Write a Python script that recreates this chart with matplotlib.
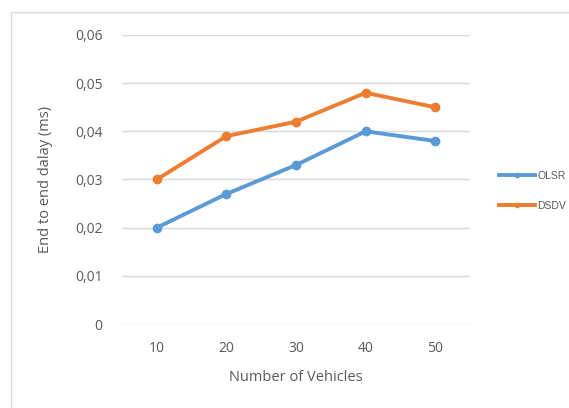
import matplotlib
matplotlib.use("Agg")
import matplotlib.pyplot as plt
from matplotlib.patches import Rectangle
from matplotlib.ticker import FuncFormatter

vehicles = ["10", "20", "30", "40", "50"]
olsr = [0.020, 0.027, 0.033, 0.040, 0.038]
dsdv = [0.030, 0.039, 0.042, 0.048, 0.045]

plt.rcParams['font.family'] = ['Open Sans', 'DejaVu Sans']
text_col = "#595959"
grid_col = "#D9D9D9"

fig = plt.figure(figsize=(5.69, 4.08), dpi=100)
ax = fig.add_axes([122/569, 1-324/408, 348/569, 289/408])

# chart area border
fig.patches.append(Rectangle((11/569, -0.1), 1.2, 1-12/408+0.1, transform=fig.transFigure,
                             fill=False, edgecolor=grid_col, linewidth=1))

x = range(len(vehicles))
ax.plot(x, olsr, color="#5B9BD5", linewidth=2.8, marker="o", markersize=6, label="OLSR")
ax.plot(x, dsdv, color="#ED7D31", linewidth=2.8, marker="o", markersize=6, label="DSDV")

ax.set_xlim(-0.5, 4.5)
ax.set_ylim(0, 0.06)
ax.set_yticks([0, 0.01, 0.02, 0.03, 0.04, 0.05, 0.06])
ax.yaxis.set_major_formatter(FuncFormatter(lambda v, p: "0" if v == 0 else f"{v:.2f}".replace(".", ",")))
ax.set_xticks(list(x))
ax.set_xticklabels(vehicles)
ax.grid(axis="y", color=grid_col, linewidth=1)
ax.set_axisbelow(True)
for s in ax.spines.values():
    s.set_visible(False)
ax.tick_params(length=0, colors=text_col, labelsize=10)
ax.tick_params(axis="y", pad=14)
ax.tick_params(axis="x", pad=12)

ax.set_xlabel("Number of Vehicles", color=text_col, fontsize=10.5, labelpad=10)
ax.set_ylabel("End to end dalay (ms)", color=text_col, fontsize=10.5, labelpad=16)

ax.legend(loc="center left", bbox_to_anchor=(499/569, 1-191/408), bbox_transform=fig.transFigure,
          frameon=False, borderpad=0, borderaxespad=0,
          prop={'family': ['Liberation Sans', 'DejaVu Sans'], 'size': 7.5},
          labelcolor=text_col, handlelength=3.5, handletextpad=0.2,
          labelspacing=1.9, markerscale=0.5)

fig.savefig("out.png", dpi=100)
